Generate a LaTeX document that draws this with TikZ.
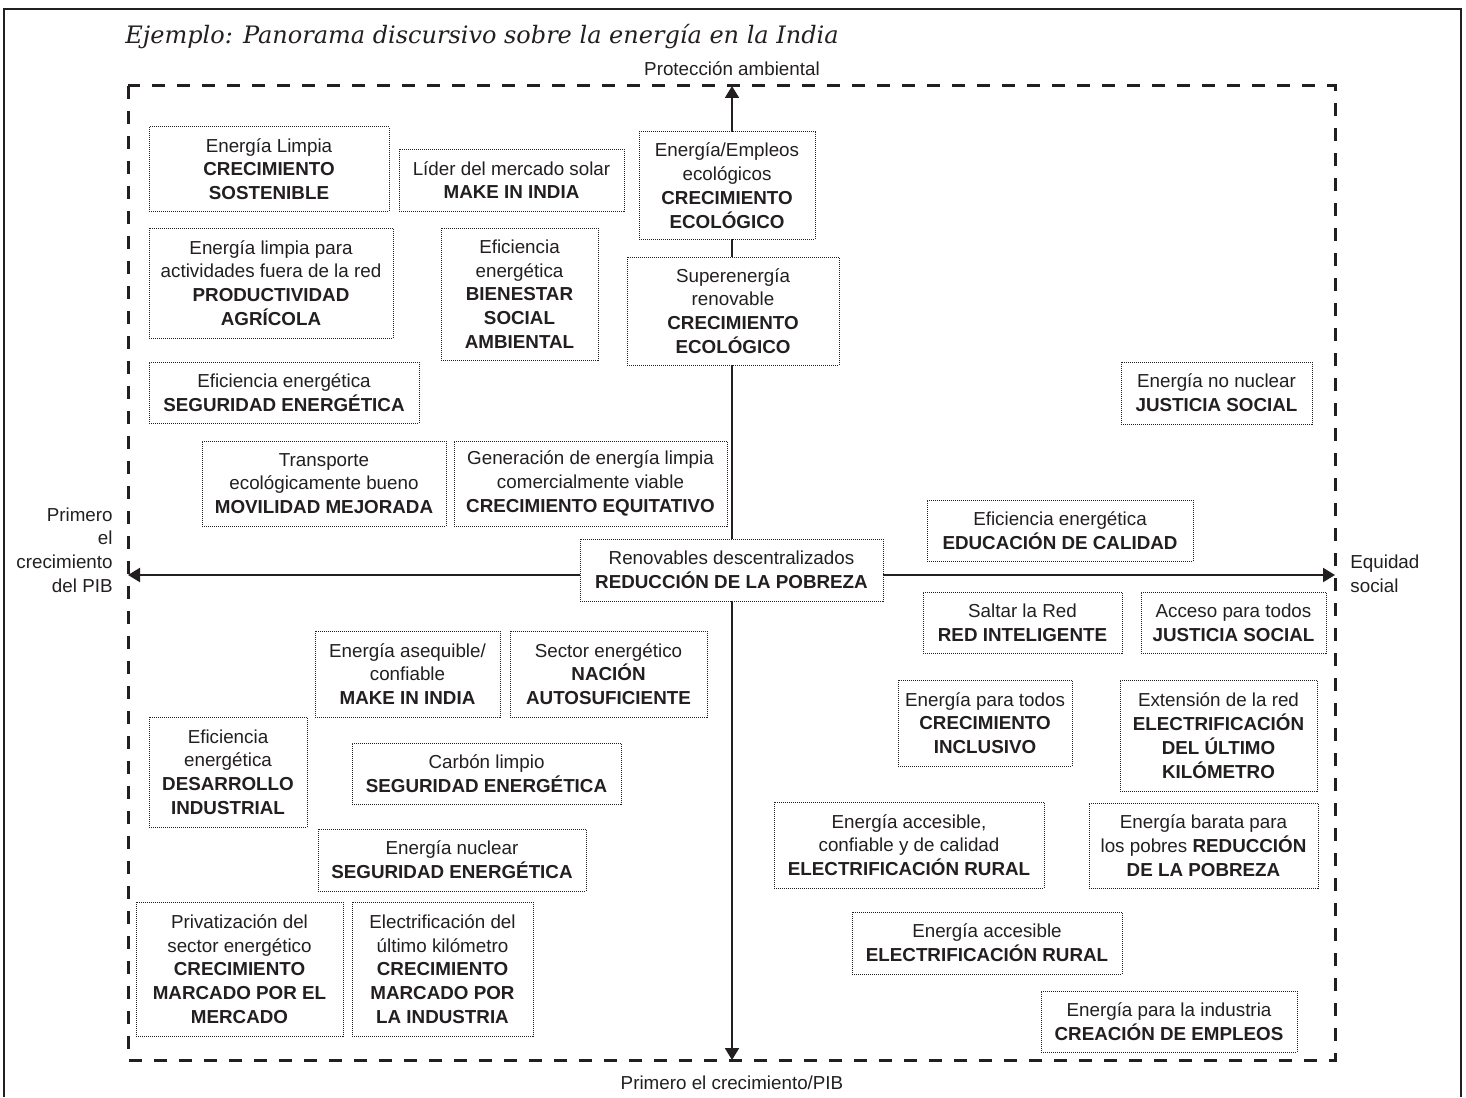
\documentclass[tikz,border=0pt]{standalone}
\usepackage{fontspec}
\setmainfont{Liberation Sans}
\newfontfamily\titlefont{DejaVu Serif}
\usetikzlibrary{arrows.meta}
\definecolor{ink}{RGB}{35,31,32}
\newcommand\bx[6]{\node[box, minimum width={(#4-#2)*0.5pt}, minimum height={(#5-#3)*0.5pt}] (#1) at ({(#2+#4)/2},{(#3+#5)/2}) {#6};}
\begin{document}
\begin{tikzpicture}[x=0.5pt,y=-0.5pt,
  every node/.style={text=ink},
  box/.style={draw=ink, line width=0.5pt, dash pattern=on 0.5pt off 0.5pt, fill=white, align=center, inner sep=0pt, font=\fontsize{9.4pt}{11.9pt}\selectfont},
  lbl/.style={font=\fontsize{9.4pt}{11.9pt}\selectfont, inner sep=0pt},
  axis/.style={draw=ink, line width=1pt, {Triangle[length=6pt,width=7pt]}-{Triangle[length=6pt,width=7pt]}},
  frame/.style={draw=ink, line width=1.5pt, dash pattern=on 6.5pt off 6pt},
]
\useasboundingbox (0,0) rectangle (1466,1097);
\draw[ink, line width=0.6pt] (4,1097) -- (4,9) -- (1461,9) -- (1461,1097);
\node[anchor=base west, inner sep=0pt, font=\titlefont\itshape\fontsize{12pt}{14pt}\selectfont] (title) at (125,44) {Ejemplo: Panorama discursivo sobre la energía en la India};
\draw[frame] (128,86) rectangle (1335,1060);
\coordinate (fN) at (732,86);
\coordinate (fS) at (732,1060);
\coordinate (fW) at (128,575);
\coordinate (fE) at (1335,575);
\draw[axis] (fW) -- (fE);
\draw[axis] (fS) -- (fN);
\node[lbl] (ptop) at (732,69) {Protección ambiental};
\node[lbl] (pbot) at (732,1083) {Primero el crecimiento/PIB};
\node[lbl, align=right, anchor=east] (pleft) at (113,550) {Primero\\el\\crecimiento\\del PIB};
\node[lbl, align=left, anchor=west] (pright) at (1350,574) {Equidad\\social};
\bx{b1}{149}{127}{389}{211}{Energía Limpia\\\textbf{CRECIMIENTO}\\\textbf{SOSTENIBLE}}
\bx{b2}{399}{149}{624}{211}{Líder del mercado solar\\\textbf{MAKE IN INDIA}}
\bx{b3}{639}{132}{815}{239}{Energía/Empleos\\ecológicos\\\textbf{CRECIMIENTO}\\\textbf{ECOLÓGICO}}
\bx{b4}{149}{228}{393}{338}{Energía limpia para\\actividades fuera de la red\\\textbf{PRODUCTIVIDAD}\\\textbf{AGRÍCOLA}}
\bx{b5}{441}{228}{598}{360}{Eficiencia\\energética\\\textbf{BIENESTAR}\\\textbf{SOCIAL}\\\textbf{AMBIENTAL}}
\bx{b6}{627}{257}{839}{365}{Superenergía\\renovable\\\textbf{CRECIMIENTO}\\\textbf{ECOLÓGICO}}
\bx{b7}{149}{362}{419}{423}{Eficiencia energética\\\textbf{SEGURIDAD ENERGÉTICA}}
\bx{b8}{1121}{362}{1312}{424}{Energía no nuclear\\\textbf{JUSTICIA SOCIAL}}
\bx{b9}{202}{441}{446}{526}{Transporte\\ecológicamente bueno\\\textbf{MOVILIDAD MEJORADA}}
\bx{b10}{454}{441}{727}{526}{Generación de energía limpia\\comercialmente viable\\\textbf{CRECIMIENTO EQUITATIVO}}
\bx{b11}{927}{500}{1193}{561}{Eficiencia energética\\\textbf{EDUCACIÓN DE CALIDAD}}
\bx{b12}{580}{539}{883}{601}{Renovables descentralizados\\\textbf{REDUCCIÓN DE LA POBREZA}}
\bx{b13}{923}{592}{1122}{653}{Saltar la Red\\\textbf{RED INTELIGENTE}}
\bx{b14}{1141}{592}{1326}{653}{Acceso para todos\\\textbf{JUSTICIA SOCIAL}}
\bx{b15}{315}{631}{500}{717}{Energía asequible/\\confiable\\\textbf{MAKE IN INDIA}}
\bx{b16}{510}{631}{707}{717}{Sector energético\\\textbf{NACIÓN}\\\textbf{AUTOSUFICIENTE}}
\bx{b17}{898}{680}{1072}{766}{Energía para todos\\\textbf{CRECIMIENTO}\\\textbf{INCLUSIVO}}
\bx{b18}{1120}{680}{1317}{791}{Extensión de la red\\\textbf{ELECTRIFICACIÓN}\\\textbf{DEL ÚLTIMO}\\\textbf{KILÓMETRO}}
\bx{b19}{149}{717}{307}{827}{Eficiencia\\energética\\\textbf{DESARROLLO}\\\textbf{INDUSTRIAL}}
\bx{b20}{352}{743}{621}{804}{Carbón limpio\\\textbf{SEGURIDAD ENERGÉTICA}}
\bx{b21}{774}{802}{1044}{888}{Energía accesible,\\confiable y de calidad\\\textbf{ELECTRIFICACIÓN RURAL}}
\bx{b22}{1089}{803}{1318}{888}{Energía barata para\\los pobres \textbf{REDUCCIÓN}\\\textbf{DE LA POBREZA}}
\bx{b23}{318}{829}{586}{891}{Energía nuclear\\\textbf{SEGURIDAD ENERGÉTICA}}
\bx{b24}{136}{902}{343}{1036}{Privatización del\\sector energético\\\textbf{CRECIMIENTO}\\\textbf{MARCADO POR EL}\\\textbf{MERCADO}}
\bx{b25}{352}{902}{533}{1036}{Electrificación del\\último kilómetro\\\textbf{CRECIMIENTO}\\\textbf{MARCADO POR}\\\textbf{LA INDUSTRIA}}
\bx{b26}{852}{912}{1122}{974}{Energía accesible\\\textbf{ELECTRIFICACIÓN RURAL}}
\bx{b27}{1041}{991}{1297}{1052}{Energía para la industria\\\textbf{CREACIÓN DE EMPLEOS}}
\end{tikzpicture}
\end{document}
